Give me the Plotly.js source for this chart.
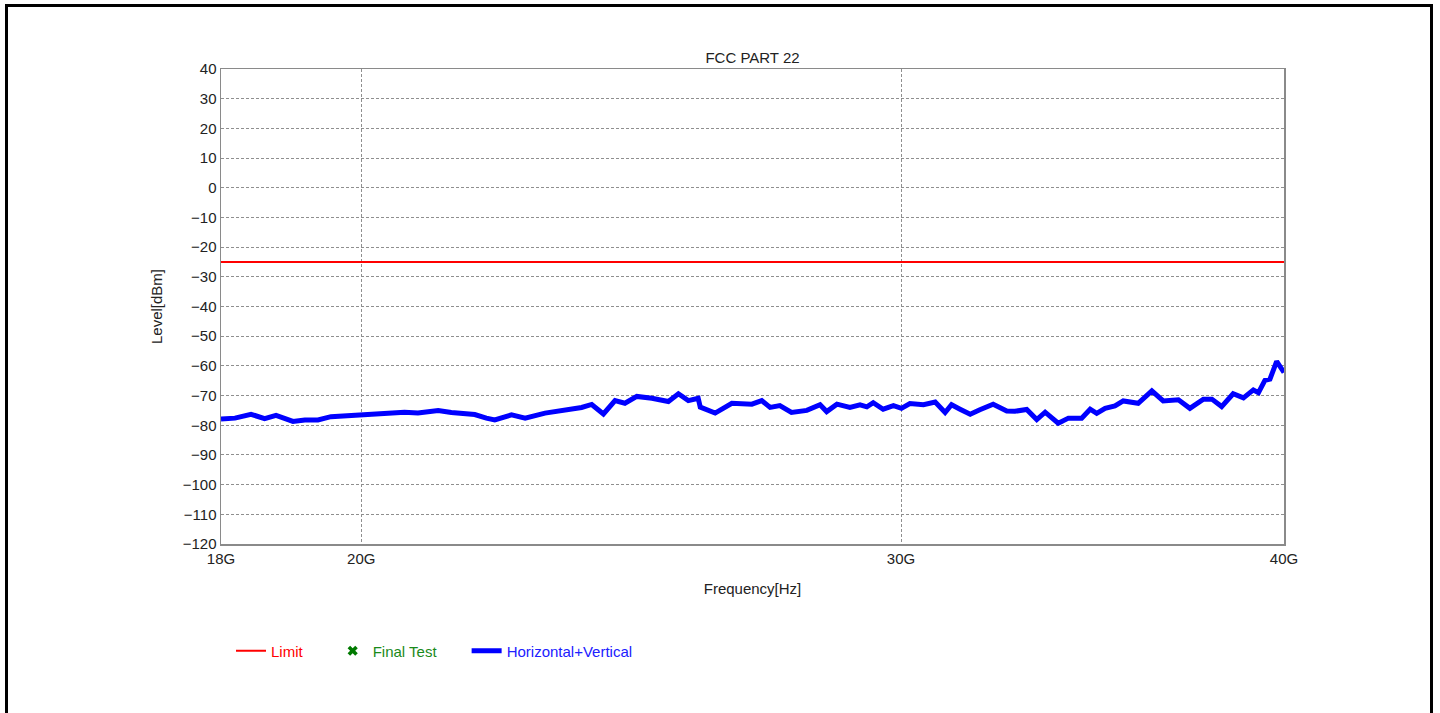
<!DOCTYPE html>
<html>
<head>
<meta charset="utf-8">
<script src="https://cdn.plot.ly/plotly-3.0.1.min.js"></script>
<style>
  html, body { margin: 0; padding: 0; background: #ffffff; width: 1440px; height: 713px; overflow: hidden; }
  #frame { position: absolute; left: 5px; top: 4px; width: 1428px; height: 760px; border: 3px solid #000; box-sizing: border-box; pointer-events: none; }
  #chart { position: absolute; left: 0; top: 0; width: 1440px; height: 713px; }
</style>
</head>
<body>
<div id="frame"></div>
<div id="chart"></div>
<script>
// Frequency in GHz
const freqGHz = [18.00,18.19,18.41,18.60,18.76,19.00,19.17,19.36,19.55,19.75,
  20.00,20.20,20.46,20.66,20.87,21.19,21.40,21.78,21.97,22.11,
  22.39,22.62,22.96,23.31,23.60,23.78,23.99,24.20,24.38,24.60,
  24.88,25.19,25.38,25.57,25.76,25.80,26.09,26.42,26.82,27.02,
  27.19,27.39,27.63,27.95,28.23,28.37,28.59,28.87,29.09,29.24,
  29.38,29.60,29.83,30.01,30.20,30.51,30.78,31.01,31.16,31.36,
  31.60,31.83,32.15,32.48,32.68,32.97,33.22,33.43,33.76,34.02,
  34.36,34.58,34.75,34.97,35.23,35.45,35.85,36.22,36.53,36.95,
  37.27,37.65,37.89,38.17,38.50,38.80,39.09,39.24,39.43,39.58,
  39.78,40.00];
// Level in dBm (Horizontal+Vertical)
const levelHV = [-77.9,-77.6,-76.3,-77.8,-76.7,-78.7,-78.2,-78.2,-77.1,-76.8,
  -76.6,-75.9,-75.9,-75.6,-75.9,-75.0,-75.7,-76.4,-77.6,-78.2,
  -76.5,-77.6,-75.9,-75.0,-74.0,-73.0,-76.2,-71.7,-72.6,-70.3,
  -70.9,-72.0,-69.4,-71.7,-70.9,-73.9,-75.9,-72.6,-72.9,-71.7,
  -74.0,-73.4,-75.7,-75.0,-73.1,-75.4,-72.9,-74.0,-73.1,-73.8,
  -72.4,-74.6,-73.4,-74.3,-72.7,-73.1,-72.2,-75.7,-73.1,-74.6,
  -76.3,-74.8,-72.9,-75.2,-75.3,-74.7,-78.1,-75.6,-79.3,-77.6,
  -77.6,-74.6,-76.0,-74.3,-73.5,-71.8,-72.6,-68.4,-71.8,-71.4,
  -74.3,-71.2,-71.2,-73.7,-69.4,-70.8,-68.1,-69.0,-64.9,-64.5,
  -58.5,-62.2];
// Limit line
const limitFreq = [18, 40];
const limitLevel = [-25, -25];
// Final test points (none measured)
const finalFreq = [null];
const finalLevel = [null];
// Ticks
const xTickVals = [18, 20, 30, 40];
const xTickText = ['18G', '20G', '30G', '40G'];
const yTickVals = [40,30,20,10,0,-10,-20,-30,-40,-50,-60,-70,-80,-90,-100,-110,-120];

const FONT = 'Arial, "Liberation Sans", sans-serif';
const nb = n => '\u00a0'.repeat(n);

const traces = [
  {
    x: limitFreq, y: limitLevel, type: 'scatter', mode: 'lines',
    name: '<span style="color:#ff0000">Limit</span>' + nb(6),
    line: { color: '#ff0000', width: 2 }
  },
  {
    x: finalFreq, y: finalLevel, type: 'scatter', mode: 'markers',
    name: '<span style="color:#1a8a1a">Final Test</span>' + nb(6),
    marker: { color: '#007a00', symbol: 'x', size: 9 }
  },
  {
    x: freqGHz, y: levelHV, type: 'scatter', mode: 'lines',
    name: '<span style="color:#2020ff">Horizontal+Vertical</span>',
    line: { color: '#0000ff', width: 5 }
  }
];

const layout = {
  width: 1440, height: 713,
  margin: { l: 221, r: 156, t: 69, b: 169, pad: 0 },
  paper_bgcolor: 'rgba(0,0,0,0)',
  plot_bgcolor: '#ffffff',
  font: { family: FONT, size: 15, color: '#222222' },
  title: {
    text: 'FCC PART 22',
    font: { family: FONT, size: 15, color: '#222222' },
    xref: 'paper', x: 0.5, xanchor: 'center',
    yref: 'container', y: 1 - 58 / 713, yanchor: 'middle'
  },
  xaxis: {
    type: 'log',
    range: [Math.log10(18), Math.log10(40)],
    tickvals: xTickVals, ticktext: xTickText,
    ticks: '', showline: true, mirror: true,
    linecolor: '#8a8a8a', linewidth: 1.5,
    showgrid: true, gridcolor: '#8f8f8f', griddash: '3px,2px', gridwidth: 1,
    zeroline: false,
    tickfont: { family: FONT, size: 15, color: '#222222' },
    title: { text: 'Frequency[Hz]', standoff: 18, font: { family: FONT, size: 15, color: '#222222' } },
    automargin: false
  },
  yaxis: {
    range: [-120, 40],
    tickvals: yTickVals,
    ticks: '', showline: true, mirror: true,
    linecolor: '#8a8a8a', linewidth: 1.5,
    showgrid: true, gridcolor: '#8f8f8f', griddash: '3px,2px', gridwidth: 1,
    zeroline: false,
    tickfont: { family: FONT, size: 15, color: '#222222' },
    title: { text: 'Level[dBm]', standoff: 16, font: { family: FONT, size: 15, color: '#222222' } },
    automargin: false
  },
  showlegend: true,
  legend: {
    orientation: 'h',
    x: (231 - 221) / 1063, xanchor: 'left',
    y: (544 - 651) / 475, yanchor: 'middle',
    font: { family: FONT, size: 15 },
    bgcolor: 'rgba(0,0,0,0)',
    itemwidth: 30
  }
};

Plotly.newPlot('chart', traces, layout, { displayModeBar: false, staticPlot: true });
</script>
</body>
</html>
